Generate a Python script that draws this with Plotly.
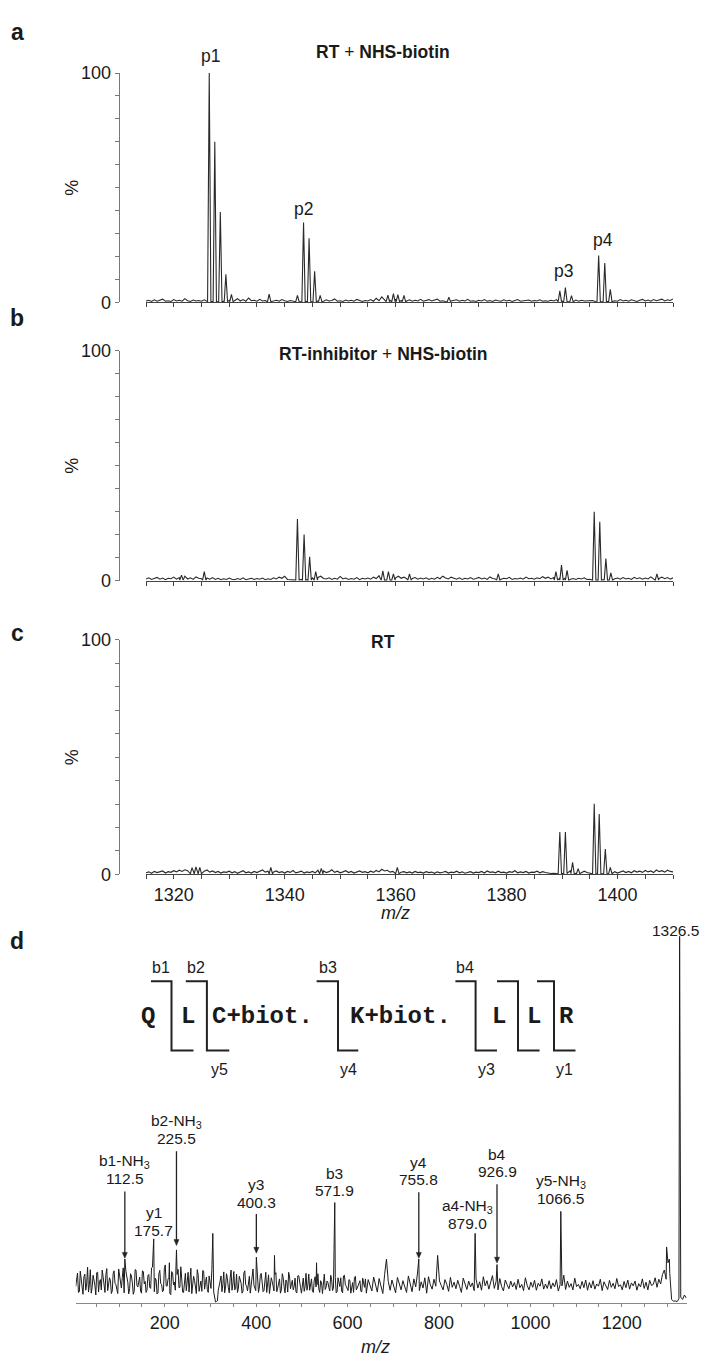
import numpy as np
import plotly.graph_objects as go

W, H = 702, 1366

# ------------------------------------------------------------------ data
# panels a-c : MS spectra 1315-1410 m/z, baseline sampled every 0.5 m/z
abc_mz_start = 1315.0
abc_mz_step = 0.5

noise_a = [
    0.6, 0.9, 0.4, 1.1, 0.5, 0.8, 1.4, 0.5, 0.7, 0.4, 1.2, 0.6, 0.9, 0.5, 1.6, 0.7, 0.4, 1.0, 0.6, 0.8,
    0.5, 1.1, 0.7, 0.4, 0.3, 0.5, 0.4, 0.6, 0.5, 0.7, 0.9, 2.1, 0.8, 1.6, 0.6, 1.2, 0.5, 1.9, 0.7, 0.9,
    0.5, 1.3, 0.6, 0.8, 0.4, 1.0, 0.6, 0.9, 0.5, 1.2, 0.7, 0.4, 0.8, 0.5, 1.4, 0.6, 0.4, 0.5, 0.3, 0.6,
    0.4, 0.5, 0.6, 0.9, 0.5, 1.1, 0.6, 0.8, 1.5, 0.5, 0.7, 0.4, 1.0, 0.6, 0.9, 0.5, 1.3, 0.7, 0.4, 0.8,
    0.6, 1.2, 0.5, 1.8, 0.7, 2.4, 1.0, 2.6, 0.9, 2.2, 1.4, 2.8, 0.8, 1.7, 0.6, 1.1, 0.5, 0.9, 0.6, 1.3,
    0.5, 0.8, 1.2, 0.6, 0.9, 1.4, 0.5, 0.7, 0.4, 1.0, 0.6, 0.8, 1.1, 0.5, 0.9, 0.6, 1.3, 0.5, 0.7, 0.4,
    0.9, 0.6, 1.2, 0.5, 0.8, 0.4, 1.0, 0.7, 0.5, 1.1, 0.6, 0.9, 0.4, 0.8, 1.2, 0.5, 0.7, 0.6, 1.0, 0.5,
    0.8, 0.6, 1.1, 0.5, 0.7, 0.5, 0.9, 0.6, 1.2, 0.4, 0.5, 0.7, 0.4, 0.8, 0.6, 1.0, 0.5, 0.9, 0.6, 0.7,
    0.5, 0.8, 0.4, 0.3, 0.4, 0.3, 0.5, 0.6, 1.0, 0.7, 0.5, 1.2, 0.6, 0.9, 0.5, 1.1, 0.7, 0.4, 0.9, 1.3,
    0.6, 1.0, 0.5, 1.2, 0.7, 0.9, 1.4, 0.6, 1.1, 0.8, 1.5,
]
peaks_a_mz = [1326.4, 1327.4, 1328.4, 1329.4, 1330.4, 1337.2, 1342.3, 1343.4, 1344.4, 1345.4,
              1346.4, 1358.6, 1359.6, 1360.4, 1361.5, 1369.6, 1389.6, 1390.6, 1391.7,
              1396.6, 1397.7, 1398.7]
peaks_a_int = [100, 70, 39.4, 12.2, 3.5, 3.6, 3.0, 34.8, 27.9, 13.6,
               3.0, 3.2, 3.8, 3.4, 3.0, 2.2, 5.0, 6.4, 2.9,
               20.4, 17.2, 5.7]

noise_b = [
    0.8, 1.3, 0.6, 1.0, 1.5, 0.7, 1.2, 0.5, 1.1, 0.9, 1.6, 0.7, 1.4, 1.0, 2.0, 0.8, 1.3, 0.6, 1.7, 1.1,
    0.9, 1.8, 1.2, 0.7, 1.4, 0.6, 1.1, 0.5, 0.9, 0.6, 1.2, 0.7, 0.5, 1.0, 0.6, 1.3, 0.5, 0.8, 1.1, 0.6,
    1.0, 0.7, 1.2, 0.5, 0.9, 0.6, 1.3, 0.8, 1.6, 1.1, 2.0, 0.6, 0.4, 0.4, 0.5, 0.4, 0.6, 0.7, 0.5, 0.8,
    1.4, 0.9, 1.5, 2.0, 1.0, 0.8, 1.3, 0.6, 1.1, 0.7, 1.9, 0.8, 1.2, 0.6, 1.0, 0.7, 1.4, 0.5, 1.1, 0.8,
    1.2, 0.7, 1.6, 1.0, 2.2, 1.8, 1.5, 2.6, 1.7, 2.4, 1.3, 2.0, 1.1, 1.6, 0.9, 1.8, 1.0, 1.4, 0.7, 1.2,
    0.8, 1.3, 0.6, 1.1, 0.7, 1.5, 0.9, 2.0, 1.2, 0.8, 1.6, 1.0, 0.7, 1.3, 0.6, 1.1, 0.8, 1.4, 0.7, 1.0,
    1.5, 0.8, 1.2, 0.6, 1.7, 1.0, 0.8, 1.3, 0.7, 1.1, 0.9, 1.5, 0.6, 1.0, 0.8, 1.2, 0.7, 1.6, 0.9, 1.1,
    0.7, 1.3, 0.9, 1.8, 1.1, 1.6, 0.8, 1.4, 0.6, 1.0, 0.5, 1.2, 1.5, 0.7, 1.0, 0.6, 1.1, 0.8, 1.3, 0.6,
    0.7, 0.4, 0.3, 0.4, 0.3, 0.5, 0.3, 0.8, 1.6, 0.9, 1.2, 0.7, 1.4, 0.8, 1.1, 0.6, 1.5, 0.9, 1.3, 0.7,
    1.2, 0.8, 1.7, 1.0, 2.0, 1.1, 1.6, 0.9, 1.4, 0.7, 1.3,
]
peaks_b_mz = [1321.4, 1325.5, 1342.3, 1343.5, 1344.5, 1345.6, 1357.7, 1358.7, 1359.6, 1362.5,
              1378.5, 1388.9, 1389.9, 1390.9, 1395.8, 1396.8, 1397.9, 1398.8, 1407.1]
peaks_b_int = [2.5, 4.0, 26.8, 20.1, 10.4, 4.0, 4.3, 4.0, 3.0, 3.0,
               3.0, 4.0, 6.8, 4.5, 30.0, 25.7, 9.7, 3.5, 3.0]

noise_c = [
    0.7, 1.1, 0.5, 1.3, 0.8, 1.0, 1.5, 0.6, 1.2, 0.9, 1.6, 1.1, 1.8, 1.3, 2.0, 1.6, 2.3, 1.9, 2.4, 1.7,
    2.1, 1.4, 1.9, 1.0, 1.5, 0.8, 1.3, 0.6, 1.1, 0.9, 1.4, 0.7, 1.2, 0.5, 1.0, 1.6, 0.7, 1.1, 0.6, 1.3,
    0.8, 1.2, 1.9, 1.0, 1.4, 0.7, 1.1, 1.5, 0.8, 1.2, 0.6, 1.3, 0.9, 1.7, 0.7, 1.0, 1.4, 0.6, 1.1, 0.8,
    1.3, 0.7, 1.8, 1.0, 1.5, 0.8, 1.2, 2.0, 0.9, 1.4, 0.7, 1.1, 1.6, 0.8, 1.3, 0.6, 1.0, 1.5, 0.9, 1.2,
    0.7, 1.4, 0.9, 1.7, 1.1, 2.2, 1.5, 1.8, 1.0, 1.3, 0.8, 1.5, 0.9, 1.2, 0.7, 1.1, 0.6, 1.3, 0.8, 1.0,
    0.6, 1.2, 0.8, 1.0, 0.5, 1.1, 0.7, 0.9, 1.3, 0.6, 1.0, 0.8, 1.4, 0.7, 1.1, 0.5, 0.9, 1.2, 0.6, 1.0,
    0.8, 1.3, 0.6, 1.5, 0.9, 1.1, 0.7, 1.4, 0.8, 1.0, 0.6, 1.2, 0.9, 1.6, 0.7, 1.1, 0.8, 1.3, 0.6, 1.0,
    0.9, 1.4, 0.7, 1.2, 0.8, 0.5, 0.4, 0.5, 0.4, 0.6, 0.5, 1.3, 0.7, 1.6, 0.9, 0.5, 1.2, 0.7, 1.4, 0.8,
    0.6, 0.4, 0.3, 0.4, 0.3, 0.4, 0.5, 0.4, 0.7, 1.2, 0.6, 1.0, 1.5, 0.8, 1.3, 0.7, 1.6, 1.0, 1.4, 0.9,
    1.7, 1.1, 1.5, 0.8, 1.9, 1.2, 1.6, 1.0, 1.8, 1.3, 1.1,
]
peaks_c_mz = [1323.3, 1324.0, 1324.7, 1337.5, 1346.6, 1360.3, 1389.6, 1390.6, 1391.9, 1392.9,
              1395.8, 1396.7, 1397.8, 1398.7]
peaks_c_int = [2.9, 3.2, 3.0, 3.0, 2.6, 3.0, 18.1, 18.1, 5.2, 2.5,
               30.1, 25.8, 10.8, 3.0]

panel_titles = ["<b>RT</b> + <b>NHS-biotin</b>",
                "<b>RT-inhibitor</b> + <b>NHS-biotin</b>",
                "<b>RT</b>"]
peak_labels_a = ["p1", "p2", "p3", "p4"]
peak_labels_a_mz = [1326.7, 1343.4, 1390.2, 1397.4]
abc_tick_labels = [1320, 1340, 1360, 1380, 1400]

# panel d : MS/MS spectrum baseline, sampled every 4 m/z from 5 to 1341 ...
d_mz_start = 5.0
d_mz_step = 4.0
noise_d = [
    4.5, 8.2, 3.1, 6.8, 2.4, 7.9, 5.2, 3.0, 9.1, 4.2, 6.5, 2.2, 8.4, 5.8, 3.6, 7.2, 2.9, 9.4, 4.8, 6.1,
    3.3, 8.8, 5.0, 2.6, 7.5, 4.1, 9.6, 3.8, 6.9, 2.5, 8.0, 5.5, 3.2, 9.0, 4.4, 7.1, 2.7, 8.6, 5.9, 3.5,
    7.8, 4.0, 9.8, 3.1, 6.3, 2.8, 8.9, 5.1, 3.4, 10.4, 4.6, 7.0, 2.3, 8.3, 5.7, 3.9, 9.2, 4.3, 6.6, 2.9,
    8.1, 5.3, 3.0, 9.5, 4.7, 6.2, 2.6, 7.7, 4.9, 3.2, 8.7, 5.6, 3.7, 7.4, 4.0, 2.5, 1.2, 0.4, 3.5, 6.0,
    3.1, 8.5, 4.4, 6.7, 2.8, 9.0, 5.2, 3.6, 7.9, 4.1, 6.4, 2.7, 8.2, 5.0, 3.3, 7.3, 4.6, 9.3, 3.9, 6.0,
    2.9, 7.6, 4.8, 3.4, 8.4, 5.5, 2.6, 6.9, 4.2, 7.8, 3.1, 5.9, 2.7, 8.0, 4.5, 6.3, 3.0, 7.1, 5.1, 3.6,
    6.8, 2.8, 7.5, 4.3, 5.8, 3.2, 8.1, 4.9, 3.5, 6.6, 2.9, 7.2, 5.0, 3.8, 6.1, 2.6, 7.9, 4.4, 5.6, 3.3,
    6.5, 4.0, 7.0, 3.1, 5.4, 6.9, 2.8, 7.6, 4.6, 3.4, 6.2, 5.0, 2.9, 7.3, 4.1, 5.7, 3.2, 6.8, 4.3, 2.7,
    6.4, 4.9, 3.3, 7.1, 5.2, 3.0, 6.7, 4.5, 2.6, 7.8, 4.0, 5.9, 3.5, 6.3, 4.7, 2.8, 7.0, 5.3, 3.6, 6.1,
    4.2, 2.9, 7.4, 5.5, 3.1, 6.6, 4.4, 8.2, 3.4, 5.8, 4.1, 6.9, 2.7, 7.2, 5.0, 3.8, 6.5, 4.6, 3.3, 6.0,
    4.8, 3.6, 6.4, 5.1, 3.2, 7.0, 4.3, 5.7, 3.9, 6.2, 4.6, 2.9, 6.8, 5.3, 3.7, 6.0, 4.4, 5.5, 3.4, 6.6,
    4.1, 5.8, 3.5, 7.2, 4.7, 6.1, 3.8, 5.4, 7.5, 4.0, 5.9, 3.6, 6.7, 4.5, 3.3, 6.3, 5.0, 3.9, 6.0, 4.4,
    5.6, 3.7, 6.5, 4.2, 5.1, 3.4, 6.9, 4.8, 3.6, 5.7, 4.3, 6.2, 3.5, 5.4, 4.6, 6.6, 3.8, 5.2, 4.0, 6.1,
    3.9, 5.5, 4.4, 6.4, 3.3, 5.0, 4.7, 7.6, 3.7, 6.0, 4.3, 5.3, 3.6, 6.8, 4.5, 5.1, 3.9, 5.9, 4.2, 6.3,
    3.5, 5.6, 4.1, 6.1, 3.8, 5.2, 4.6, 6.5, 3.4, 5.8, 4.9, 3.7, 6.2, 4.3, 5.4, 3.9, 6.7, 4.5, 5.0, 3.6,
    5.9, 4.2, 6.3, 3.8, 5.5, 4.7, 6.0, 3.5, 5.3, 4.4, 6.6, 4.0, 5.7, 3.6, 6.2, 4.8, 5.1, 6.9, 4.3, 6.5,
    5.2, 7.8, 9.0, 6.5, 11.0, 8.0, 1.0, 0.5, 0.6, 0.4, 1.2, 1.6, 1.0, 2.2, 1.4,
]
# ... plus the denser low-mass region, extra samples every 4 m/z from 7 to 639
d_mid_start = 7.0
d_mid_step = 4.0
noise_d_mid = [
    6.1, 2.9, 8.7, 4.4, 7.2, 3.5, 9.8, 5.0, 2.7, 7.6, 4.9, 8.3, 3.0, 6.4, 9.0, 4.1, 7.7, 3.4, 6.9, 2.6,
    8.1, 5.4, 3.2, 9.3, 4.6, 7.0, 2.8, 8.5, 5.7, 3.9, 7.4, 2.4, 9.1, 4.8, 6.2, 3.3, 8.8, 5.2, 2.9, 7.5,
    4.3, 9.6, 3.6, 6.8, 2.5, 8.0, 5.3, 3.1, 9.4, 4.7, 6.5, 2.7, 8.6, 5.0, 3.5, 7.8, 4.2, 9.9, 3.0, 6.7,
    3.4, 8.4, 5.8, 2.6, 7.3, 4.5, 9.1, 3.2, 6.0, 8.9, 3.8, 7.1, 2.9, 5.6, 9.2, 3.0, 0.3, 0.6, 4.5, 7.4,
    5.1, 2.8, 8.0, 4.2, 6.9, 3.5, 8.6, 4.0, 2.9, 7.3, 5.4, 3.2, 8.8, 4.6, 6.2, 2.7, 7.9, 4.9, 3.4, 6.8,
    4.4, 8.1, 3.1, 6.5, 2.9, 7.7, 4.8, 5.9, 3.3, 8.3, 4.1, 6.6, 3.6, 7.0, 2.8, 5.7, 8.4, 3.9, 6.2, 4.5,
    3.0, 7.4, 5.2, 2.7, 6.8, 4.6, 3.5, 7.9, 5.1, 3.2, 6.3, 4.4, 8.0, 2.9, 5.5, 7.1, 3.7, 6.0, 4.2, 7.6,
    3.4, 5.8, 2.8, 6.9, 4.5, 3.3, 7.4, 5.0, 3.9, 6.4, 2.7, 5.6, 7.0, 3.6, 4.8, 6.1, 3.1, 5.3, 6.6,
]
peaks_d_mz = [112.5, 175.7, 210.0, 225.5, 305.0, 400.3, 440.0, 532.0, 571.9, 685.0,
              755.8, 797.0, 879.0, 926.9, 1066.5, 1298.0, 1304.0, 1326.5]
peaks_d_int = [12.0, 17.5, 11.0, 14.5, 19.0, 12.5, 13.0, 11.0, 27.4, 12.0,
               12.0, 13.0, 19.0, 10.5, 25.0, 15.3, 12.0, 100.0]

d_ion_names = ["b1-NH<sub>3</sub>", "y1", "b2-NH<sub>3</sub>", "y3", "b3", "y4",
               "a4-NH<sub>3</sub>", "b4", "y5-NH<sub>3</sub>"]
d_ion_mz = [112.5, 175.7, 225.5, 400.3, 571.9, 755.8, 879.0, 926.9, 1066.5]
d_parent_mz = 1326.5
d_tick_labels = [200, 400, 600, 800, 1000, 1200]

sequence_residues = ["Q", "L", "C+biot.", "K+biot.", "L", "L", "R"]
b_ion_labels = ["b1", "b2", "b3", "b4"]
y_ion_labels = ["y5", "y4", "y3", "y1"]

# ------------------------------------------------------------------ styling / layout
FONT = "Liberation Sans, Arial, Helvetica, sans-serif"
MONO = "Liberation Mono, Courier New, monospace"
TXT = "#1a1a1a"
LINE = "#2a2a2a"
PEAK_HALF_WIDTH_ABC = 0.3   # drawn half-width of a peak (display style)
PEAK_FLOOR_ABC = 0.3


def px(x):
    return x / W


def py(y):
    return 1 - y / H


def spectrum(grids, pk_mz, pk_int, hw, floor=None):
    """Baseline samples (list of (start, step, values)) + peak apexes."""
    nx = np.concatenate([s + st * np.arange(len(v)) for s, st, v in grids])
    nv = np.concatenate([np.asarray(v, dtype=float) for s, st, v in grids])
    pm = np.asarray(pk_mz, dtype=float)
    pi = np.asarray(pk_int, dtype=float)
    keep = np.array([np.all(np.abs(pm - x) > hw + 1e-6) for x in nx])
    xs = [nx[keep], pm]
    ys = [nv[keep], pi]
    if floor is not None:
        xs += [pm - hw, pm + hw]
        ys += [np.full(len(pm), floor), np.full(len(pm), floor)]
    xs = np.concatenate(xs)
    ys = np.concatenate(ys)
    o = np.argsort(xs, kind="stable")
    return xs[o], ys[o]


fig = go.Figure()

# pixel geometry of the three upper panels (top of 100 %, bottom of 0 %)
abc_rows = [(64.0, 296.7), (345.7, 579.3), (639.3, 877.3)]
abc_x_px = (146.0, 673.0)
abc_yaxis_px = 118.7

series = [(noise_a, peaks_a_mz, peaks_a_int),
          (noise_b, peaks_b_mz, peaks_b_int),
          (noise_c, peaks_c_mz, peaks_c_int)]

for i, (nz, pm, pi) in enumerate(series):
    xs, ys = spectrum([(abc_mz_start, abc_mz_step, nz)], pm, pi,
                      PEAK_HALF_WIDTH_ABC, PEAK_FLOOR_ABC)
    s = "" if i == 0 else str(i + 1)
    fig.add_trace(go.Scatter(x=xs, y=ys, mode="lines", xaxis="x" + s, yaxis="y" + s,
                             line=dict(color=LINE, width=1.1), hoverinfo="skip",
                             showlegend=False))

xs_d, ys_d = spectrum([(d_mz_start, d_mz_step, noise_d),
                       (d_mid_start, d_mid_step, noise_d_mid)],
                      peaks_d_mz, peaks_d_int, 0.9)
fig.add_trace(go.Scatter(x=xs_d, y=ys_d, mode="lines", xaxis="x4", yaxis="y4",
                         line=dict(color="#1c1c1c", width=1.0), hoverinfo="skip",
                         showlegend=False))

layout = dict(width=W, height=H, margin=dict(l=0, r=0, t=0, b=0),
              paper_bgcolor="white", plot_bgcolor="white", showlegend=False,
              font=dict(family=FONT, color=TXT, size=18))

abc_ticks = list(range(1315, 1411, 5))
y_ticks = list(range(0, 101, 10))
for i, (top, bot) in enumerate(abc_rows):
    s = "" if i == 0 else str(i + 1)
    layout["xaxis" + s] = dict(
        domain=[px(abc_x_px[0]), px(abc_x_px[1])], range=[1315, 1410], anchor="y" + s,
        showline=True, linecolor="#444", linewidth=1, ticks="outside", ticklen=4,
        tickcolor="#444", tickwidth=1, tickvals=abc_ticks,
        ticktext=[str(t) if t in abc_tick_labels else "" for t in abc_ticks],
        showticklabels=(i == 2), tickfont=dict(size=18, family=FONT, color=TXT),
        showgrid=False, zeroline=False)
    layout["yaxis" + s] = dict(
        domain=[py(bot), py(top)], range=[0, 100], anchor="free",
        position=px(abc_yaxis_px), showline=True, linecolor="#777", linewidth=1,
        ticks="outside", ticklen=4, tickcolor="#777", tickwidth=1, tickvals=y_ticks,
        ticktext=[str(t) if t in (0, 100) else "" for t in y_ticks],
        tickfont=dict(size=18, family=FONT, color=TXT), showgrid=False, zeroline=False)

d_ticks = list(range(50, 1301, 50))
layout["xaxis4"] = dict(
    domain=[px(75.7), px(686.7)], range=[5, 1342], anchor="y4",
    showline=True, linecolor="#888", linewidth=1, ticks="outside", ticklen=3,
    tickcolor="#888", tickvals=d_ticks,
    ticktext=[str(t) if t in d_tick_labels else "" for t in d_ticks],
    tickfont=dict(size=18, family=FONT, color=TXT), showgrid=False, zeroline=False)
layout["yaxis4"] = dict(domain=[py(1312.3), py(940.0)], range=[0, 100], visible=False,
                        fixedrange=True)

ann = []
shapes = []


def text(t, x, y, xref, yref, size=18, **kw):
    d = dict(text=t, x=x, y=y, xref=xref, yref=yref, showarrow=False,
             font=dict(size=size, family=kw.pop("family", FONT), color=TXT),
             xanchor=kw.pop("xanchor", "center"), yanchor=kw.pop("yanchor", "middle"))
    d.update(kw)
    ann.append(d)


# panel letters
for letter, ypx in zip("abcd", [22, 313, 632, 945]):
    text("<b>%s</b>" % letter, px(17), py(ypx), "paper", "paper", size=23)

# panel titles and % labels
title_px = [(383, 43), (383, 349), (383, 641.7)]
for i, t in enumerate(panel_titles):
    s = "" if i == 0 else str(i + 1)
    text(t, px(title_px[i][0]), py(title_px[i][1]), "paper", "paper", size=17.5)
    text("%", px(72), 50, "paper", "y" + s, size=18, textangle=-90)

# p1..p4 labels in panel a
p_label_ypx = [47, 201.7, 265, 233.3]
for lab, mz, yy in zip(peak_labels_a, peak_labels_a_mz, p_label_ypx):
    text(lab, mz, py(yy), "x", "paper", size=17.5)

text("<i>m/z</i>", 1360, py(916), "x3", "paper", size=18)
text("<i>m/z</i>", 660, py(1357), "x4", "paper", size=18)

# panel d ion labels: (value-line y, x shift, arrow tail, arrow tip) in % units
LINE_GAP = 4.7
HEAD_HALF_W = 5.5     # arrow head half width (m/z units)
HEAD_LEN = 1.6        # arrow head length (% units)
ion_pos = [(33.9, 0, 30.4, 12.2),
           (19.9, 0, None, None),
           (44.9, 0, 41.4, 15.7),
           (27.5, 0, 24.3, 13.6),
           (30.6, 0, None, None),
           (33.6, 0, 30.2, 12.2),
           (21.6, -17, None, None),
           (35.8, 0, 32.4, 10.9),
           (28.4, 0, None, None)]
for name, mz, (vy, dx, tail, tip) in zip(d_ion_names, d_ion_mz, ion_pos):
    text(name, mz + dx, vy + LINE_GAP, "x4", "y4", size=15.5)
    text("%.1f" % mz, mz + dx, vy, "x4", "y4", size=15.5)
    if tail is not None:
        shapes.append(dict(type="line", xref="x4", yref="y4", x0=mz, x1=mz,
                           y0=tail, y1=tip + HEAD_LEN * 0.6,
                           line=dict(color="#222", width=1.3)))
        shapes.append(dict(type="path", xref="x4", yref="y4", fillcolor="#222",
                           line=dict(color="#222", width=0.5),
                           path="M %f %f L %f %f L %f %f Z" % (
                               mz - HEAD_HALF_W, tip + HEAD_LEN,
                               mz + HEAD_HALF_W, tip + HEAD_LEN, mz, tip)))
text("%.1f" % d_parent_mz, px(701), py(934), "paper", "paper", size=15.5,
     xanchor="right")

# peptide sequence diagram
res_x = [148.4, 188.0, 262.0, 400.9, 498.5, 534.0, 566.7]
for r, xx in zip(sequence_residues, res_x):
    text("<b>%s</b>" % r, px(xx), py(1021.7), "paper", "paper", size=24, family=MONO)

brackets = [(151.0, 171.5, 193.5), (185.8, 206.9, 229.3), (316.6, 338.0, 358.3),
            (455.4, 475.6, 497.0), (497.0, 518.0, 539.6), (537.0, 554.0, 575.5)]
y_top, y_bot = 985.7, 1056.0
for x0, xv, x1 in brackets:
    path = "M %f %f L %f %f L %f %f L %f %f" % (px(x0), py(y_top), px(xv), py(y_top),
                                                px(xv), py(y_bot), px(x1), py(y_bot))
    shapes.append(dict(type="path", path=path, xref="paper", yref="paper",
                       line=dict(color="#222", width=2)))

b_x = [161.0, 196.0, 327.5, 465.0]
for lab, xx in zip(b_ion_labels, b_x):
    text(lab, px(xx), py(971.7), "paper", "paper", size=16)
y_x = [219.0, 348.4, 486.0, 564.3]
for lab, xx in zip(y_ion_labels, y_x):
    text(lab, px(xx), py(1075.0), "paper", "paper", size=16)

layout["annotations"] = ann
layout["shapes"] = shapes
fig.update_layout(**layout)
fig.write_html("out.html",
               config={"displayModeBar": False, "staticPlot": True},
               post_script="document.body.style.margin='0';"
                           "document.body.style.overflow='hidden';")
